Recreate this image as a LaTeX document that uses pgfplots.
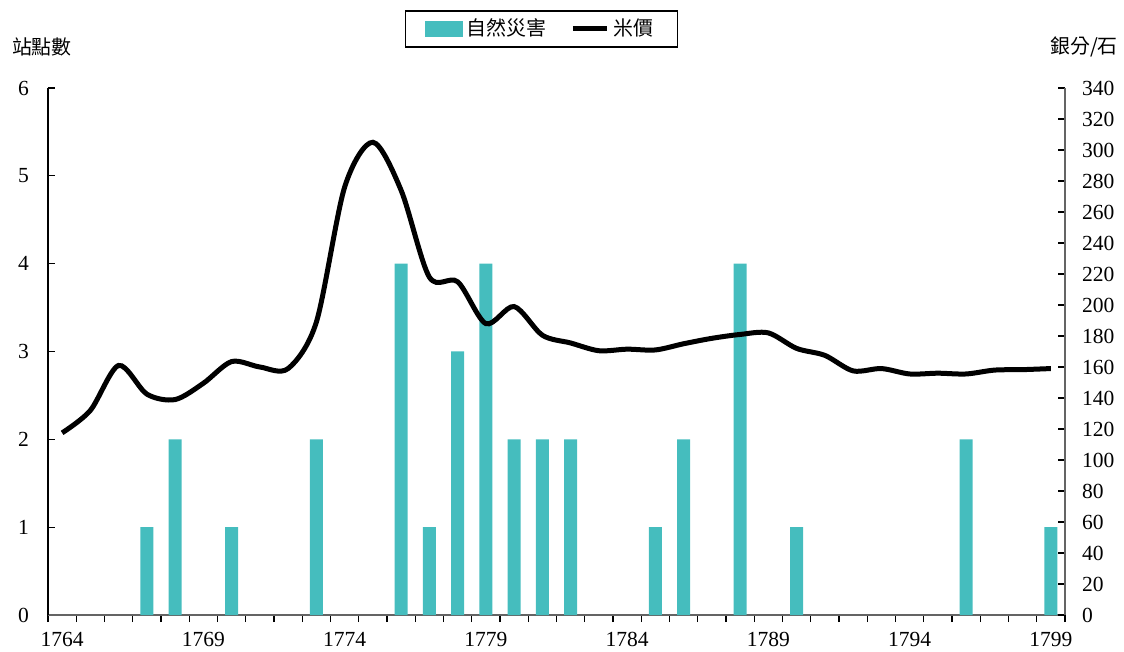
\documentclass[border=0pt]{standalone}
\usepackage{pgfplots}
\pgfplotsset{compat=1.18}
\usepackage{fontspec}
\setmainfont{Liberation Serif}
\newfontfamily\cjk{Noto Sans CJK TC}
\definecolor{barc}{RGB}{69,189,190}
\definecolor{axg}{RGB}{100,100,100}
\begin{document}
\begin{tikzpicture}
\begin{axis}[
  name=left,
  scale only axis, width=508.5bp, height=263.5bp,
  xmin=-0.5, xmax=35.5, ymin=0, ymax=6,
  clip=false,
  axis y line*=left, axis x line*=bottom,
  x axis line style={draw=axg, line width=0.8pt, -},
  y axis line style={draw=black, line width=0.8pt, -},
  xtick={0,5,...,35},
  xticklabels={1764,1769,1774,1779,1784,1789,1794,1799},
  major x tick style={draw=none},
  minor xtick={-0.5,0.5,...,35.5},
  minor x tick style={draw=black, line width=0.6pt},
  minor tick length=3.5bp,
  ytick={0,1,...,6},
  y tick style={draw=black, line width=0.6pt},
  major tick length=3.5bp,
  tick align=inside,
  tick label style={font=\fontsize{10.8}{12}\selectfont},
  /pgf/number format/assume math mode=true,
  xticklabel style={yshift=-1.5bp},
  yticklabel style={xshift=-6bp},
  ybar, bar width=6.5bp, bar shift=0pt,
]
\coordinate (O) at (rel axis cs:0,0);
\addplot[fill=barc, draw=none] coordinates {
 (3,1) (4,2) (6,1) (9,2) (12,4) (13,1) (14,3) (15,4) (16,2) (17,2) (18,2)
 (21,1) (22,2) (24,4) (26,1) (32,2) (35,1)
};
\node[font=\cjk\fontsize{10}{12}\selectfont] at (rel axis cs:-0.006,1.078) {站點數};
\node[font=\cjk\fontsize{10}{12}\selectfont] at (rel axis cs:1.0187,1.078) {銀分/石};
\end{axis}
\begin{axis}[
  scale only axis, width=508.5bp, height=263.5bp,
  xmin=-0.5, xmax=35.5, ymin=0, ymax=340,
  axis y line*=right, axis x line=none,
  y axis line style={draw=axg, line width=0.8pt, -},
  ytick={0,20,...,340},
  y tick style={draw=black, line width=0.6pt},
  major tick length=3.5bp,
  tick align=inside,
  tick label style={font=\fontsize{10.8}{12}\selectfont},
  /pgf/number format/assume math mode=true,
  yticklabel style={xshift=5bp},
  legend columns=2,
  legend style={at={(rel axis cs:0.485,1.112)}, anchor=center, draw=black, line width=0.6pt,
    font=\cjk\fontsize{10}{12}\selectfont, inner xsep=10bp, inner ysep=2bp,
    /tikz/every even column/.append style={column sep=10bp}},
]
\addlegendimage{legend image code/.code={\fill[barc] (0bp,-3.5bp) rectangle (18bp,3.5bp);}}
\addlegendentry{自然災害}
\addplot[black, line width=2.5bp, smooth, tension=0.5, mark=none] coordinates {
 (0,117.5) (1,132) (2,161) (3,142.5) (4,139) (5,149.5) (6,163.5) (7,160) (8,159)
 (9,189) (10,276) (11,305) (12,274) (13,218) (14,215) (15,188) (16,199) (17,180.5)
 (18,175.5) (19,170.5) (20,171.5) (21,171) (22,175) (23,178.5) (24,181) (25,182)
 (26,172) (27,167.5) (28,157.5) (29,159) (30,155.5) (31,156) (32,155.5) (33,158)
 (34,158.3) (35,159)
};
\addlegendentry{米價}
\end{axis}
\pgfresetboundingbox
\path[use as bounding box] (O) ++(-24bp,-18.5bp) rectangle ++(562bp,326bp);
\end{tikzpicture}
\end{document}
